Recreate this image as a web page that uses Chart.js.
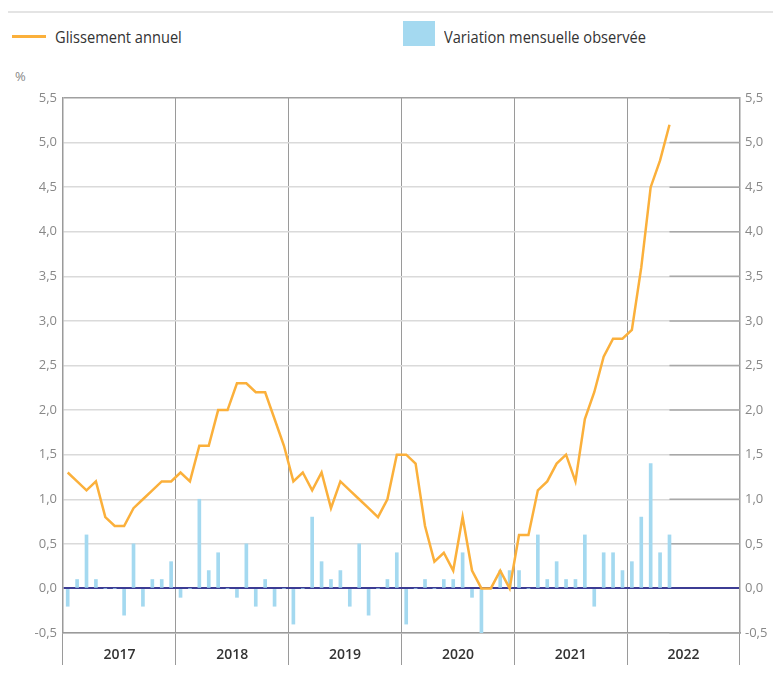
<!DOCTYPE html>
<html>
<head>
<meta charset="utf-8">
<script src="https://cdn.jsdelivr.net/npm/chart.js@4/dist/chart.umd.min.js"></script>
<style>
  body { margin: 0; background: #fff; }
  #wrap { position: relative; width: 773px; height: 684px; font-family: 'Open Sans', sans-serif; }
  #rule { position: absolute; left: 8px; right: 0; top: 11px; height: 2px; background: #e4e4e4; }
  .leg { position: absolute; top: 26px; font-size: 17px; color: #333; line-height: 22px; transform: scaleX(0.86); transform-origin: left center; white-space: nowrap; }
  .swLine { position: absolute; left: 12px; top: 35px; width: 34px; height: 3px; background: #fbb03b; }
  .swBox { position: absolute; left: 403px; top: 21px; width: 32px; height: 25px; background: #a4d9f0; }
  #pct { position: absolute; left: 15px; top: 67px; font-size: 13px; color: #888; }
  canvas { position: absolute; left: 0; top: 0; }
</style>
</head>
<body>
<div id="wrap">
  <div id="rule"></div>
  <div class="swLine"></div>
  <div class="leg" style="left:55px">Glissement annuel</div>
  <div class="swBox"></div>
  <div class="leg" style="left:444px">Variation mensuelle observée</div>
  <div id="pct">%</div>
  <canvas id="myChart" width="773" height="684"></canvas>
</div>
<script>
// mois de janvier 2017 a decembre 2022
const annees = ['2017', '2018', '2019', '2020', '2021', '2022'];
const mois = [];
annees.forEach(a => {
    for (let m = 1; m <= 12; m++) mois.push(a + '-' + String(m).padStart(2, '0'));
});

// glissement annuel (%)
const glissement = [
    1.3, 1.2, 1.1, 1.2, 0.8, 0.7, 0.7, 0.9, 1.0, 1.1, 1.2, 1.2,
    1.3, 1.2, 1.6, 1.6, 2.0, 2.0, 2.3, 2.3, 2.2, 2.2, 1.9, 1.6,
    1.2, 1.3, 1.1, 1.3, 0.9, 1.2, 1.1, 1.0, 0.9, 0.8, 1.0, 1.5,
    1.5, 1.4, 0.7, 0.3, 0.4, 0.2, 0.8, 0.2, 0.0, 0.0, 0.2, 0.0,
    0.6, 0.6, 1.1, 1.2, 1.4, 1.5, 1.2, 1.9, 2.2, 2.6, 2.8, 2.8,
    2.9, 3.6, 4.5, 4.8, 5.2
];

// variation mensuelle observee (%)
const variation = [
    -0.2, 0.1, 0.6, 0.1, 0.0, 0.0, -0.3, 0.5, -0.2, 0.1, 0.1, 0.3,
    -0.1, 0.0, 1.0, 0.2, 0.4, 0.0, -0.1, 0.5, -0.2, 0.1, -0.2, 0.0,
    -0.4, 0.0, 0.8, 0.3, 0.1, 0.2, -0.2, 0.5, -0.3, 0.0, 0.1, 0.4,
    -0.4, 0.0, 0.1, 0.0, 0.1, 0.1, 0.4, -0.1, -0.5, 0.0, 0.2, 0.2,
    0.2, 0.0, 0.6, 0.1, 0.3, 0.1, 0.1, 0.6, -0.2, 0.4, 0.4, 0.2,
    0.3, 0.8, 1.4, 0.4, 0.6
];

const yMin = -0.5, yMax = 5.5, yStep = 0.5;
const police = "'Open Sans', sans-serif";
const fmt = v => v.toFixed(1).replace('.', ',');

// grille plus foncee apres la derniere donnee
const grilleFin = {
    id: 'grilleFin',
    beforeDatasetsDraw(chart) {
        const c = chart.ctx, x = chart.scales.x, y = chart.scales.y;
        const x0 = x.getPixelForValue(variation.length - 1);
        c.save();
        c.strokeStyle = '#a8a8a8';
        c.lineWidth = 1.5;
        y.ticks.forEach(t => {
            if (t.value === 0) return;
            const py = y.getPixelForValue(t.value);
            c.beginPath();
            c.moveTo(x0, py);
            c.lineTo(chart.chartArea.right, py);
            c.stroke();
        });
        c.restore();
    }
};

new Chart(document.getElementById('myChart'), {
    type: 'bar',
    data: {
        labels: mois,
        datasets: [{
            type: 'line',
            label: 'Glissement annuel',
            data: glissement,
            borderColor: '#fbb03b',
            borderWidth: 2.5,
            pointRadius: 0,
            tension: 0,
            yAxisID: 'y',
            xAxisID: 'x'
        }, {
            label: 'Variation mensuelle observée',
            data: variation,
            backgroundColor: '#a4d9f0',
            barThickness: 3,
            yAxisID: 'y',
            xAxisID: 'x'
        }]
    },
    options: {
        responsive: false,
        devicePixelRatio: 1,
        animation: false,
        layout: { padding: { top: 98, left: 0, right: 0, bottom: 0 } },
        plugins: {
            legend: { display: false },
            tooltip: { enabled: false }
        },
        scales: {
            x: {
                display: false,
                offset: true
            },
            annee: {
                type: 'category',
                labels: annees,
                position: 'bottom',
                offset: true,
                grid: {
                    offset: true,
                    color: '#9a9a9a',
                    lineWidth: 1,
                    drawTicks: true,
                    tickLength: 32
                },
                border: { color: '#9a9a9a', width: 1.5 },
                ticks: {
                    color: '#333',
                    padding: -18,
                    font: { family: police, size: 14, weight: '600' }
                },
                afterFit: s => { s.height = 51; }
            },
            y: {
                position: 'left',
                min: yMin,
                max: yMax,
                ticks: {
                    stepSize: yStep,
                    color: '#888',
                    padding: 6,
                    font: { family: police, size: 13 },
                    callback: v => fmt(v)
                },
                grid: {
                    drawTicks: false,
                    color: c => c.tick.value === 0 ? '#3c3c94' : (c.tick.value === yMax ? '#a0a0a0' : '#dadada'),
                    lineWidth: c => c.tick.value === 0 ? 2 : 1.5
                },
                border: { color: '#9a9a9a', width: 1.5 },
                afterFit: s => { s.width = 63; }
            },
            y2: {
                position: 'right',
                min: yMin,
                max: yMax,
                ticks: {
                    stepSize: yStep,
                    color: '#888',
                    padding: 5,
                    font: { family: police, size: 13 },
                    callback: v => fmt(v)
                },
                grid: { drawOnChartArea: false, drawTicks: false },
                border: { color: '#9a9a9a', width: 1.5 },
                afterFit: s => { s.width = 33; }
            }
        }
    },
    plugins: [grilleFin]
});
</script>
</body>
</html>
